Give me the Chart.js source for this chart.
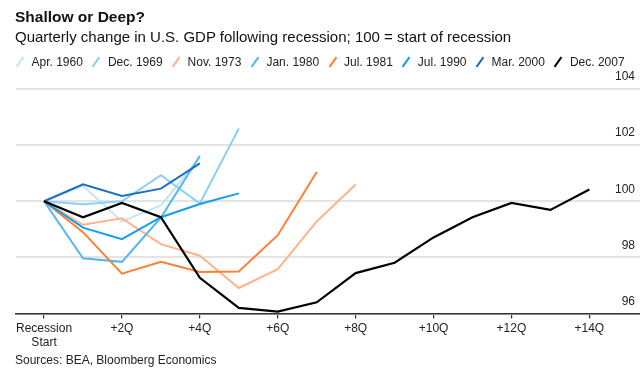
<!DOCTYPE html>
<html>
<head>
<meta charset="utf-8">
<script src="https://cdn.jsdelivr.net/npm/chart.js@4"></script>
<style>
    body { margin: 0; background: #fff; }
    #wrap { position: relative; width: 640px; height: 369px; font-family: "Liberation Sans", Arial, sans-serif; color: #111; }
    #chart { position: absolute; left: 0; top: 0; }
    .title { position: absolute; left: 15px; top: 8px; font-size: 15.5px; font-weight: bold; }
    .subtitle { position: absolute; left: 15px; top: 28px; font-size: 15px; }
    .legend { position: absolute; left: 15px; top: 55px; display: flex; font-size: 12px; color: #222; line-height: 14px; }
    .legend span.item { display: inline-flex; align-items: center; margin-right: 8.5px; }
    .legend span.mark { display: inline-block; width: 10px; height: 14px; position: relative; margin-right: 6.5px; }
    .legend span.mark::after { content: ''; position: absolute; left: 4px; top: 1px; width: 2px; height: 12px; background: var(--c); transform: rotate(35deg); }
    .source { position: absolute; left: 15px; top: 353px; font-size: 12px; color: #222; }
</style>
</head>
<body>
<div id="wrap">
    <canvas id="chart" width="640" height="369"></canvas>
    <div class="title">Shallow or Deep?</div>
    <div class="subtitle">Quarterly change in U.S. GDP following recession; 100 = start of recession</div>
    <div class="legend" id="legend"></div>
    <div class="source">Sources: BEA, Bloomberg Economics</div>
</div>
<script>
// values indexed by quarters since recession start (100 = start)
const apr1960 = [100, 100.55, 99.28, 99.85, 101.55];
const dec1969 = [100, 99.89, 100.0, 100.93, 99.92, 102.59];
const nov1973 = [100, 99.16, 99.39, 98.47, 98.06, 96.91, 97.58, 99.28, 100.6];
const jan1980 = [100, 97.97, 97.84, 99.42, 101.62];
const jul1981 = [100, 98.9, 97.42, 97.84, 97.48, 97.5, 98.79, 101.04];
const jul1990 = [100, 99.06, 98.65, 99.43, 99.9, 100.28];
const mar2000 = [100, 100.6, 100.19, 100.45, 101.35];
const dec2007 = [100, 99.43, 99.94, 99.43, 97.27, 96.2, 96.07, 96.4, 97.44, 97.81, 98.71, 99.43, 99.94, 99.69, 100.42];

const seriesNames = ['Apr. 1960', 'Dec. 1969', 'Nov. 1973', 'Jan. 1980', 'Jul. 1981', 'Jul. 1990', 'Mar. 2000', 'Dec. 2007'];
const seriesValues = [apr1960, dec1969, nov1973, jan1980, jul1981, jul1990, mar2000, dec2007];
const seriesColors = ['#c4e4f8', '#8ccff5', '#ffb38a', '#55b7ef', '#ff7f32', '#0f9ef0', '#1a6fc2', '#000000'];

const xTickValues = [0, 2, 4, 6, 8, 10, 12, 14];
const xTickLabels = [['Recession', 'Start'], '+2Q', '+4Q', '+6Q', '+8Q', '+10Q', '+12Q', '+14Q'];
const yTickValues = [96, 98, 100, 102, 104];

const legend = document.getElementById('legend');
seriesNames.forEach((name, i) => {
    const item = document.createElement('span');
    item.className = 'item';
    item.innerHTML = '<span class="mark" style="--c:' + seriesColors[i] + '"></span>' + name;
    legend.appendChild(item);
});

const datasets = seriesValues.map((vals, i) => ({
    label: seriesNames[i],
    data: vals.map((v, q) => ({ x: q, y: v })),
    borderColor: seriesColors[i],
    borderWidth: i === 7 ? 2.2 : 2,
    pointRadius: 0,
    tension: 0,
    fill: false,
    order: seriesValues.length - i
}));

const font = { family: '"Liberation Sans", Arial, sans-serif', size: 12 };

new Chart(document.getElementById('chart').getContext('2d'), {
    type: 'line',
    data: { datasets: datasets },
    options: {
        responsive: false,
        animation: false,
        devicePixelRatio: 1,
        layout: { padding: { top: 89, left: 16, right: 0, bottom: 0 } },
        plugins: { legend: { display: false }, tooltip: { enabled: false } },
        scales: {
            x: {
                type: 'linear',
                min: -0.72,
                max: 15.3,
                afterBuildTicks: (scale) => { scale.ticks = xTickValues.map(v => ({ value: v })); },
                afterFit: (scale) => { scale.height = 55.5; },
                ticks: {
                    font: font,
                    color: '#222',
                    padding: 3,
                    maxRotation: 0,
                    autoSkip: false,
                    callback: (v) => xTickLabels[xTickValues.indexOf(v)]
                },
                grid: { drawOnChartArea: false, drawTicks: true, tickLength: 5, color: '#333', lineWidth: 1.2 },
                border: { display: true, color: '#333', width: 1.6 }
            },
            y: {
                position: 'right',
                min: 96,
                max: 104,
                afterBuildTicks: (scale) => { scale.ticks = yTickValues.map(v => ({ value: v })); },
                afterFit: (scale) => { scale.width = 0; },
                ticks: {
                    mirror: true,
                    padding: -5,
                    labelOffset: -12,
                    font: font,
                    color: '#222'
                },
                grid: { color: '#e4e4e4', lineWidth: 2, drawTicks: false },
                border: { display: false }
            }
        }
    }
});
</script>
</body>
</html>
